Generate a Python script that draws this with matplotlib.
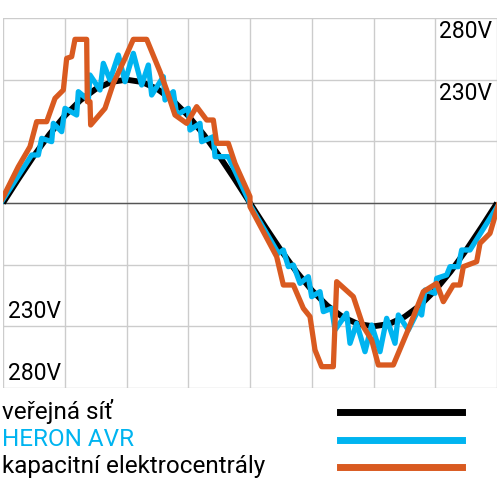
import numpy as np
import matplotlib
matplotlib.use('Agg')
import matplotlib.pyplot as plt

# black reference sine, sampled every quarter grid cell (units: grid cells)
sine_x = np.arange(0, 8.01, 0.25)
sine_y = [0, 0.39, 0.765, 1.111, 1.414, 1.663, 1.848, 1.962, 2,
          1.962, 1.848, 1.663, 1.414, 1.111, 0.765, 0.39, 0,
          -0.39, -0.765, -1.111, -1.414, -1.663, -1.848, -1.962, -2,
          -1.962, -1.848, -1.663, -1.414, -1.111, -0.765, -0.39, 0]

# traced points, picture pixels (zoom crops, 3x)
blue_a = [(5,605),(95,465),(115,465),(125,415),(155,425),(160,370),(185,395),(195,325),
          (230,345),(235,275),(265,300),(270,225),(300,270),(310,190),(330,240),(355,165),
          (375,245),(400,160),(425,255),(445,195),(455,285),(490,230),(495,300),(520,275),
          (530,345),(565,325),(570,390),(600,370),(605,425),(640,410),(645,470),(685,470),(750,610)]
blue_b = [(0,15),(85,160),(100,150),(115,200),(130,195),(150,250),(175,230),(185,290),
          (210,275),(220,335),(245,325),(255,390),(290,340),(300,430),(320,370),(345,455),
          (365,375),(390,455),(410,355),(435,430),(445,345),(475,390),(505,330),(515,345),
          (525,270),(555,280),(560,235),(590,225),(600,200),(625,200),(635,150),(660,150),(745,15)]
orange_a = [(5,600),(55,500),(90,440),(110,365),(140,365),(165,295),(190,270),(200,175),
            (215,170),(225,118),(260,118),(262,305),(270,305),(272,375),(315,325),(340,250),
            (375,175),(400,118),(440,118),(480,215),(500,270),(525,345),(560,370),(590,320),
            (620,360),(640,360),(650,430),(685,430),(705,490),(750,590)]
orange_b = [(0,20),(80,170),(100,255),(130,255),(160,325),(180,350),(195,450),(215,500),
            (250,500),(260,245),(310,290),(340,380),(365,420),(385,495),(430,495),(470,400),
            (520,275),(560,250),(580,305),(610,255),(630,255),(640,200),(680,185),(690,130),
            (720,100),(745,15)]

legend_labels = ['veřejná síť', 'HERON AVR', 'kapacitní elektrocentrály']
colors = ['black', '#00b4f0', '#d95a20']


def to_units(pts, ox, oy):
    a = np.array(pts, float)
    px = ox + a[:, 0] / 3
    py = oy + a[:, 1] / 3
    return (px - 3) / 61.75, (203 - py) / 61.67


bx = np.concatenate([to_units(blue_a, 0, 0)[0], to_units(blue_b, 250, 200)[0]])
by = np.concatenate([to_units(blue_a, 0, 0)[1], to_units(blue_b, 250, 200)[1]])
ox_ = np.concatenate([to_units(orange_a, 0, 0)[0], to_units(orange_b, 250, 200)[0]])
oy_ = np.concatenate([to_units(orange_a, 0, 0)[1], to_units(orange_b, 250, 200)[1]])

fig = plt.figure(figsize=(5, 5), dpi=100)
ax = fig.add_axes([3/500, 1-388/500, 494/500, 370/500])
ax.set_xlim(0, 8); ax.set_ylim(-3, 3)
ax.set_xticks(range(9)); ax.set_yticks(range(-3, 4))
ax.grid(color='#cccccc', lw=1)
ax.tick_params(length=0, labelbottom=False, labelleft=False)
for s in ax.spines.values():
    s.set_visible(False)
ax.axhline(0, color='#555555', lw=1)

ax.plot(sine_x, sine_y, color=colors[0], lw=4.2, solid_capstyle='butt')
ax.plot(bx, by, color=colors[1], lw=3.8)
ax.plot(ox_, oy_, color=colors[2], lw=3.8)

fnt = dict(family='Roboto', fontsize=16.5)
fig.text(492/500, 1-32/500, '280V', ha='right', va='center', **fnt)
fig.text(492/500, 1-94/500, '230V', ha='right', va='center', **fnt)
fig.text(8/500, 1-312/500, '230V', ha='left', va='center', **fnt)
fig.text(8/500, 1-373/500, '280V', ha='left', va='center', **fnt)

for i, (lab, c) in enumerate(zip(legend_labels, colors)):
    y = 1 - (412 + i * 27.5) / 500
    fig.text(2/500, y, lab, ha='left', va='center', family='Roboto', fontsize=17.5,
             color=c if i == 1 else 'black')
    fig.add_artist(plt.Line2D([340/500, 462/500], [y, y], color=c, lw=5))

fig.savefig('out.png', dpi=100)
